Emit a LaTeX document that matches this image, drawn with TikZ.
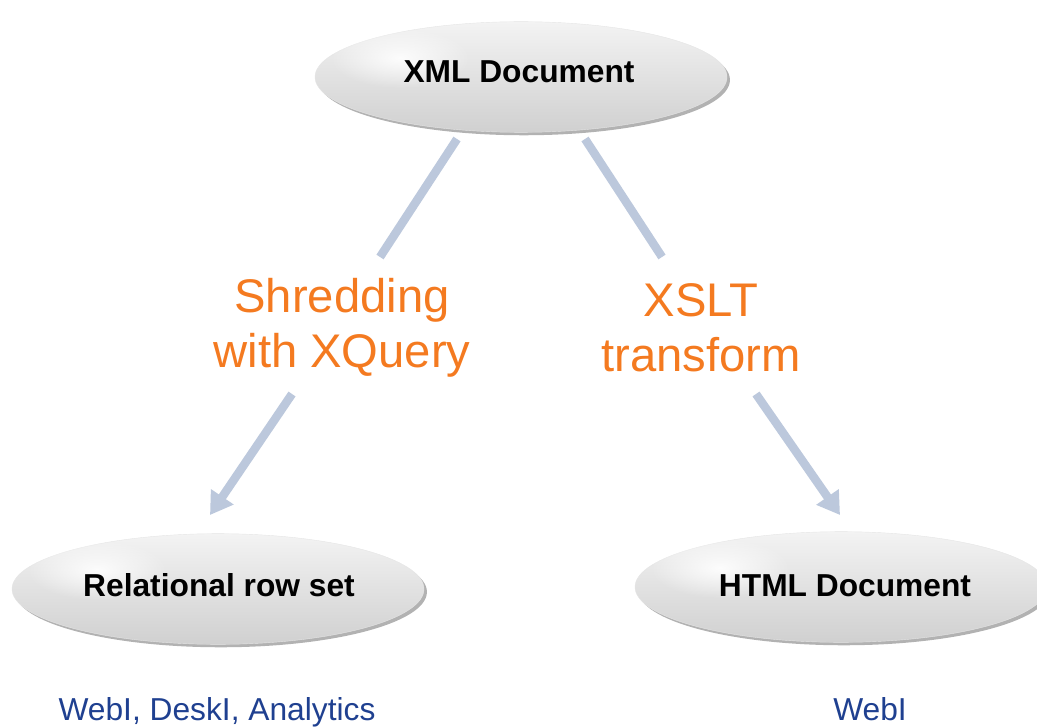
\documentclass[tikz,border=0pt]{standalone}
\usepackage{fontspec}
\setmainfont{Liberation Sans}
\usetikzlibrary{shapes.geometric,arrows.meta,shadows,fadings}
\tikzfading[name=myglowfade, inner color=transparent!0, outer color=transparent!100]
\definecolor{arrowblue}{HTML}{BCC8DC}
\definecolor{lblorange}{HTML}{F47A20}
\definecolor{appblue}{HTML}{1F4090}
\definecolor{elltop}{HTML}{F3F3F3}
\definecolor{ellbot}{HTML}{D0D0D0}
\tikzset{
  docell/.style={ellipse, inner sep=0pt, top color=elltop, bottom color=ellbot,
    draw=black!10, line width=0.3pt,
    drop shadow={shadow xshift=2.2pt, shadow yshift=-2.2pt, opacity=0.55, fill=black!55},
    minimum width=309pt, minimum height=83pt},
  doctext/.style={font=\bfseries\fontsize{23.8pt}{28pt}\selectfont, text=black},
  lbl/.style={font=\fontsize{35.4pt}{41.4pt}\selectfont, text=lblorange, align=center},
  app/.style={font=\fontsize{23.8pt}{28pt}\selectfont, text=appblue, anchor=base},
  conn/.style={draw=arrowblue, line width=6.4pt},
  connarrow/.style={conn, -{Triangle[length=16.5pt,width=19.5pt]}},
  glow/.style={white, path fading=myglowfade, opacity=0.9}
}
\begin{document}
\begin{tikzpicture}[x=0.75pt,y=-0.75pt]
\useasboundingbox (0,0) rectangle (1037,727);
% ellipses
\node[docell] (xml) at (521,77) {};
\node[docell] (rel) at (218,589) {};
\node[docell] (html) at (841,587) {};
% soft highlights
\fill[glow] (400,58) ellipse (70 and 30);
\fill[glow] (97,570) ellipse (70 and 30);
\fill[glow] (720,568) ellipse (70 and 30);
% texts
\node[doctext] (xmlt) at (519,72) {XML Document};
\node[doctext] (relt) at (219,585) {Relational row set};
\node[doctext] (htmlt) at (845,586) {HTML Document};
% labels
\node[lbl] (shred) at (342,328) {Shredding\\with XQuery};
\node[lbl] (xslt) at (701,328) {XSLT\\transform};
% connectors
\coordinate (ls1) at (457,139);
\coordinate (le1) at (380,257);
\coordinate (ls2) at (292,394);
\coordinate (le2) at (210,515);
\coordinate (rs1) at (585,139);
\coordinate (re1) at (662,257);
\coordinate (rs2) at (756,394);
\coordinate (re2) at (840,515);
\draw[conn] (ls1) -- (le1);
\draw[connarrow] (ls2) -- (le2);
\draw[conn] (rs1) -- (re1);
\draw[connarrow] (rs2) -- (re2);
% application labels
\node[app] (apps1) at (217,720) {WebI, DeskI, Analytics};
\node[app] (apps2) at (870,720) {WebI};
\end{tikzpicture}
\end{document}
